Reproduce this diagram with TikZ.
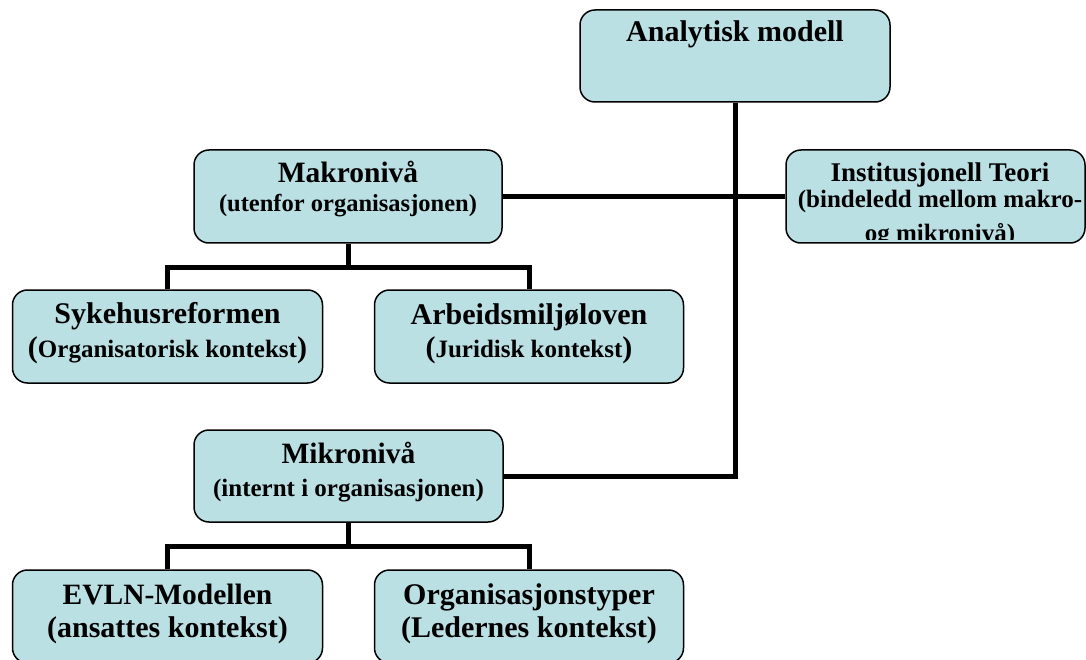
\documentclass[tikz,border=0pt]{standalone}
\usepackage{fontspec}
\setmainfont{Liberation Serif}
\definecolor{boxfill}{RGB}{187,224,228}
\newcommand\fsz[1]{\fontsize{#1}{#1}\selectfont\bfseries}
\begin{document}
\begin{tikzpicture}[x=1pt,y=-1pt,
  box/.style={draw=black, line width=1.5pt, fill=boxfill, rounded corners=15pt,
    minimum height=93pt, inner sep=0pt},
  conn/.style={draw=black, line width=5pt, line join=miter},
  txt/.style={anchor=base, inner sep=0pt, text=black}]
\useasboundingbox (0,0) rectangle (1086,660);
% boxes
\node[box, minimum width=310pt, minimum height=92pt] (ana) at (735,56) {};
\node[box, minimum width=308pt] (makro) at (348,196.5) {};
\node[box, minimum width=299pt] (inst) at (935.5,196.5) {};
\node[box, minimum width=310pt] (syk) at (167.5,336.5) {};
\node[box, minimum width=309pt] (arb) at (529,336.5) {};
\node[box, minimum width=309pt, minimum height=92pt] (mikro) at (348.5,476) {};
\node[box, minimum width=310pt] (evln) at (167.5,616.5) {};
\node[box, minimum width=309pt] (org) at (529,616.5) {};
% connectors
\draw[conn] (ana.south) -- (ana.south |- mikro.east) -- (mikro.east);
\draw[conn] (makro.east) -- (inst.west);
\draw[conn] (makro.south) -- ++(0,24) coordinate (mk);
\draw[conn] (syk.north) |- (mk) -| (arb.north);
\draw[conn] (mikro.south) -- ++(0,24) coordinate (mi);
\draw[conn] (evln.north) |- (mi) -| (org.north);
% texts
\node[txt] (tana) at (735,42) {\fsz{30}Analytisk modell};
\node[txt] (tmak1) at (348,183) {\fsz{29.5}Makronivå};
\node[txt] (tmak2) at (348,212) {\fsz{24.5}(utenfor organisasjonen)};
\begin{scope}
\clip (786,151) rectangle (1085,239.5);
\node[txt] (tin1) at (940,182) {\fsz{27}Institusjonell Teori};
\node[txt] (tin2) at (940,208) {\fsz{25}(bindeledd mellom makro-};
\node[txt] (tin3) at (940,242) {\fsz{25}og mikronivå)};
\end{scope}
\node[txt] (tsyk1) at (167.5,323) {\fsz{30}Sykehusreformen};
\node[txt] (tsyk2) at (167.5,357) {\fsz{30}(\fsz{25}Organisatorisk kontekst\fsz{30})};
\node[txt] (tarb1) at (529,324) {\fsz{30}Arbeidsmiljøloven};
\node[txt] (tarb2) at (529,357) {\fsz{30}(\fsz{25}Juridisk kontekst\fsz{30})};
\node[txt] (tmik1) at (348.5,463) {\fsz{29.5}Mikronivå};
\node[txt] (tmik2) at (348.5,496) {\fsz{25}(internt i organisasjonen)};
\node[txt] (tev1) at (167.5,604) {\fsz{29.5}EVLN-Modellen};
\node[txt] (tev2) at (167.5,637) {\fsz{30}(ansattes kontekst)};
\node[txt] (tor1) at (529,604) {\fsz{30}Organisasjonstyper};
\node[txt] (tor2) at (529,637) {\fsz{30}(Ledernes kontekst)};
\end{tikzpicture}
\end{document}
